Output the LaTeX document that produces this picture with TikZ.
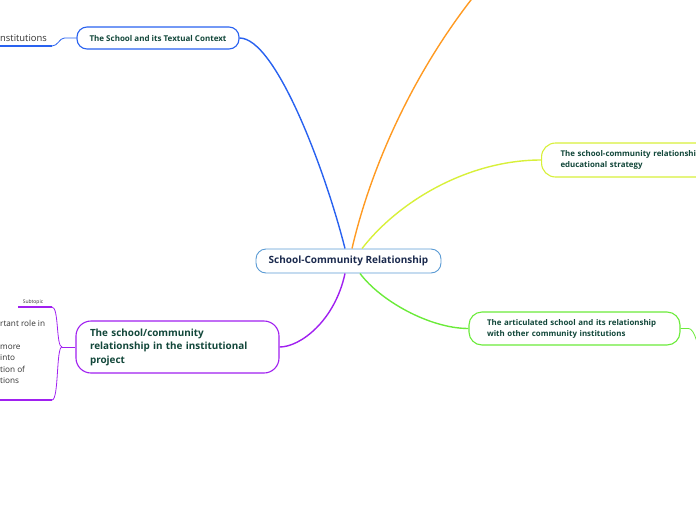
\documentclass[tikz,border=0pt]{standalone}
\usepackage{fontspec}
\setmainfont{Open Sans}
\usepackage{tikz}
\usetikzlibrary{positioning,calc}
\usepackage{xcolor}

\definecolor{rootline}{HTML}{5A9BD4}
\definecolor{rootink}{HTML}{1B2A4E}
\definecolor{topicink}{HTML}{12473A}
\definecolor{plainink}{HTML}{333333}
\definecolor{ctxblue}{HTML}{2962F0}
\definecolor{projpurple}{HTML}{A020F0}
\definecolor{stratlime}{HTML}{D8F03A}
\definecolor{artgreen}{HTML}{6BEB3A}
\definecolor{extorange}{HTML}{FF9A22}

\begin{document}
\begin{tikzpicture}[x=1pt, y=-1pt,
    rootbox/.style={draw=rootline, line width=0.9pt, rounded corners=10pt, fill=white, text=rootink, font=\fontsize{10}{11}\selectfont\bfseries, minimum width=185pt, minimum height=24pt},
    ctxbox/.style={draw=ctxblue, line width=1.1pt, rounded corners=10pt, fill=white, text=topicink, font=\fontsize{8}{11}\selectfont\bfseries, minimum width=162pt, minimum height=22pt},
    projbox/.style={draw=projpurple, line width=1.1pt, rounded corners=15pt, fill=white, text=topicink, font=\fontsize{9.9}{13.5}\selectfont\bfseries, align=left, text width=175pt, inner xsep=14pt, minimum height=52pt},
    stratbox/.style={draw=stratlime, line width=1.1pt, rounded corners=14pt, fill=white, text=topicink, font=\fontsize{7.9}{11}\selectfont\bfseries, align=left, text width=170pt, inner xsep=19pt, minimum height=34pt},
    artbox/.style={draw=artgreen, line width=1.1pt, rounded corners=13pt, fill=white, text=topicink, font=\fontsize{7.9}{11}\selectfont\bfseries, align=left, text width=175pt, inner xsep=18pt, minimum height=33pt},
    leaftext/.style={text=plainink, font=\fontsize{8.2}{11.5}\selectfont, align=left, inner sep=0pt},
    ctxlink/.style={draw=ctxblue, line width=1.4pt},
    projlink/.style={draw=projpurple, line width=1.4pt},
    stratlink/.style={draw=stratlime, line width=1.4pt},
    artlink/.style={draw=artgreen, line width=1.4pt},
    extlink/.style={draw=extorange, line width=1.4pt}
  ]
    \useasboundingbox (0,0) rectangle (696,520);
    \clip (0,0) rectangle (696,520);

    % connectors first, boxes on top
    \coordinate (offtop) at (505,-40);
    \coordinate (artnext) at (701,362);
    \coordinate (ctxfork) at (52,46);
    \coordinate (ctxend) at (-2,46);
    \coordinate (projfork) at (62,347);
    \coordinate (subtop) at (52,307);
    \coordinate (subtopend) at (18,307);
    \coordinate (subbot) at (52,400);
    \coordinate (subbotend) at (-2,400);

    \node[rootbox] (root) at (348.5,261) {School-Community Relationship};
    \node[ctxbox] (ctx) at (158,38) {The School and its Textual Context};
    \node[projbox] (proj) at (177.5,347) {The school/community\\relationship in the institutional\\project};
    \node[stratbox, anchor=west] (strat) at (541,160) {The school-community relationship\\educational strategy};
    \node[artbox] (art) at (574.5,328.5) {The articulated school and its relationship\\with other community institutions};

    \draw[ctxlink] ([xshift=-3.5pt]root.north) .. controls +(-20,-79) and +(36,0) .. (ctx.east);
    \draw[extlink] ([xshift=3.5pt]root.north) .. controls +(23,-99) and +(-75,80) .. (offtop);
    \draw[stratlink] ([xshift=13.5pt]root.north) .. controls +(38,-49) and +(-71,0) .. (strat.west);
    \draw[projlink] ([xshift=-3.5pt]root.south) .. controls +(-10,47) and +(21,0) .. (proj.east);
    \draw[artlink] ([xshift=11.5pt]root.south) .. controls +(20,27) and +(-39,0) .. (art.west);
    \draw[artlink, line width=0.8pt] (art.east) -- +(8,0) .. controls +(6,0) and +(-2,-15) .. (artnext);

    % left side leaves
    \draw[ctxlink, line width=0.8pt] (ctx.west) -- +(-12,0) .. controls +(-5,0) and +(6,0) .. (ctxfork);
    \draw[ctxlink, line width=1.5pt] (ctxfork) -- (ctxend);
    \node[leaftext, font=\fontsize{9.4}{11}\selectfont, anchor=base west] (inst) at (0,41) {nstitutions};

    \draw[projlink, line width=0.8pt] (proj.west) -- (projfork);
    \draw[projlink, line width=0.8pt] (projfork) .. controls +(-6,0) and +(7,0) .. (subtop);
    \draw[projlink, line width=0.8pt] (projfork) .. controls +(-6,0) and +(7,0) .. (subbot);
    \draw[projlink, line width=1.5pt] (subtop) -- (subtopend);
    \draw[projlink, line width=1.5pt] (subbot) -- (subbotend);
    \node[leaftext, font=\fontsize{5}{6}\selectfont, anchor=base] (sub) at (33,303) {Subtopic};
    \node[leaftext, anchor=north west] (note) at (0,320) {rtant role in\\\mbox{}\\more\\into\\tion of\\tions};
\end{tikzpicture}
\end{document}
